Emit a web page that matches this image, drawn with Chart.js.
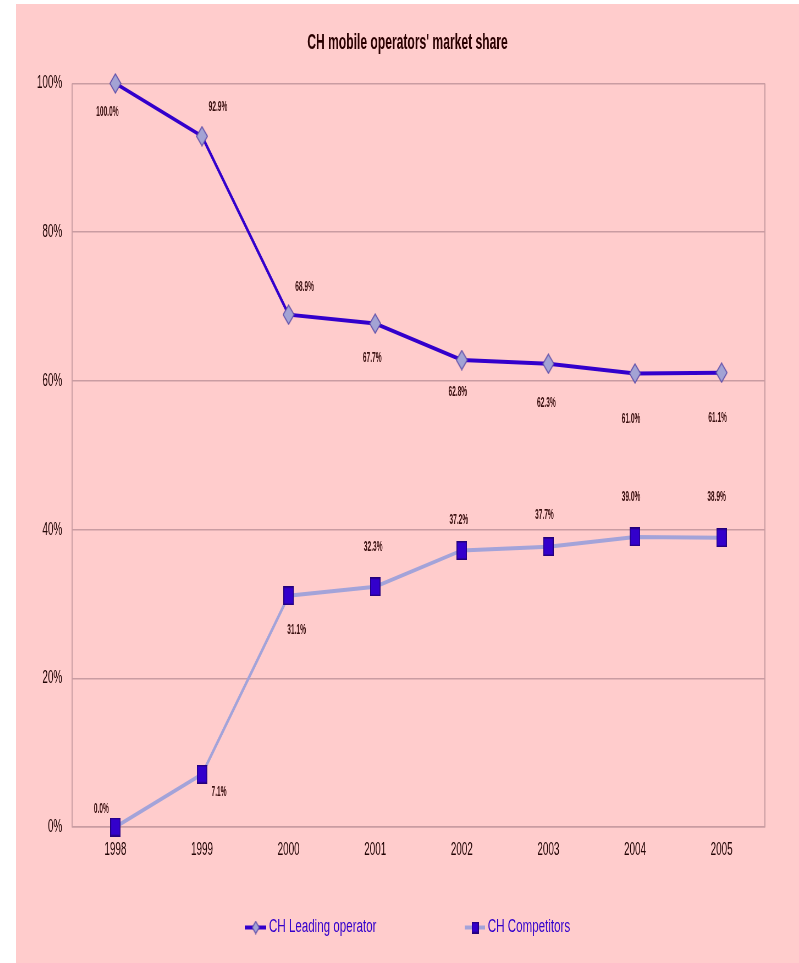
<!DOCTYPE html>
<html>
<head>
<meta charset="utf-8">
<title>CH mobile operators' market share</title>
<script src="https://cdn.jsdelivr.net/npm/chart.js@4.4.0/dist/chart.umd.min.js"></script>
<style>
    body { margin: 0; background: #ffffff; }
    #box { position: absolute; left: 16px; top: 4px; width: 783px; height: 959px; background: #ffcccc; overflow: hidden; }
</style>
</head>
<body>
<div id="box"><canvas id="myChart" width="1424" height="959" style="display:block;width:783px;height:959px;"></canvas></div>
<script>
var years = ['1998', '1999', '2000', '2001', '2002', '2003', '2004', '2005'];
var leadingShare = [100.0, 92.9, 68.9, 67.7, 62.8, 62.3, 61.0, 61.1];
var competitorShare = [0.0, 7.1, 31.1, 32.3, 37.2, 37.7, 39.0, 38.9];
var yTickValues = [0, 20, 40, 60, 80, 100];

// where each value label sits relative to its point (screen px)
var leadingLabelOffsets = [[-8, 28], [16, -29], [16, -28], [-3, 34], [-4, 32], [-2, 39], [-4, 45], [-4, 45]];
var competitorLabelOffsets = [[-14, -18], [17, 18], [8, 34], [-2, -40], [-3, -31], [-4, -32], [-4, -40], [-5, -41]];

// the canvas is drawn wide and squeezed to 783px, like the original picture
var SX = 783 / 1424;

var gridColor = '#c99ca2';
var textColor = '#220505';
var leadColor = '#3300cc';
var compColor = '#a3a3d9';

function diamondImage(w, h, fill, stroke) {
    var c = document.createElement('canvas');
    c.width = w;
    c.height = h;
    var g = c.getContext('2d');
    g.beginPath();
    g.moveTo(w / 2, 1);
    g.lineTo(w - 1, h / 2);
    g.lineTo(w / 2, h - 1);
    g.lineTo(1, h / 2);
    g.closePath();
    g.fillStyle = fill;
    g.fill();
    g.lineWidth = 1.5;
    g.strokeStyle = stroke;
    g.stroke();
    return c;
}

function boxImage(w, h, fill, stroke) {
    var c = document.createElement('canvas');
    c.width = w;
    c.height = h;
    var g = c.getContext('2d');
    g.fillStyle = fill;
    g.fillRect(0, 0, w, h);
    g.lineWidth = 1.5;
    g.strokeStyle = stroke;
    g.strokeRect(0.75, 0.75, w - 1.5, h - 1.5);
    return c;
}

var leadMarker = diamondImage(22, 21, '#a3a3d4', '#5a4aa8');
var compMarker = boxImage(19, 19, '#3300cc', '#24007a');
var leadLegendMarker = diamondImage(15, 14, '#a3a3d4', '#5a4aa8');
var compLegendMarker = boxImage(13, 12, '#3300cc', '#24007a');

function drawSqueezedText(ctx, text, x, y, font, color, scaleX, align) {
    ctx.save();
    ctx.translate(x, y);
    ctx.scale(scaleX, 1);
    ctx.font = font;
    ctx.fillStyle = color;
    ctx.textAlign = align;
    ctx.textBaseline = 'middle';
    ctx.fillText(text, 0, 0);
    ctx.restore();
}

var plotFrame = {
    id: 'plotFrame',
    beforeDatasetsDraw: function (chart) {
        var a = chart.chartArea;
        var ctx = chart.ctx;
        ctx.save();
        ctx.strokeStyle = gridColor;
        ctx.lineWidth = 2;
        ctx.beginPath();
        ctx.moveTo(a.right, a.top);
        ctx.lineTo(a.right, a.bottom);
        ctx.moveTo(a.left, a.top);
        ctx.lineTo(a.left, a.bottom);
        ctx.stroke();
        ctx.restore();
    }
};

var valueLabels = {
    id: 'valueLabels',
    afterDatasetsDraw: function (chart) {
        var ctx = chart.ctx;
        var sets = [[leadingShare, leadingLabelOffsets], [competitorShare, competitorLabelOffsets]];
        for (let d = 0; d < sets.length; d++) {
            var meta = chart.getDatasetMeta(d);
            for (let i = 0; i < meta.data.length; i++) {
                var pt = meta.data[i];
                var off = sets[d][1][i];
                drawSqueezedText(ctx, sets[d][0][i].toFixed(1) + '%', pt.x + off[0] / SX, pt.y + off[1],
                    'bold 15px "Liberation Sans"', '#3a1010', 0.8, 'center');
            }
        }
    }
};

var bottomLegend = {
    id: 'bottomLegend',
    afterDraw: function (chart) {
        var ctx = chart.ctx;
        var y = 923.5;
        var items = [
            { x0: 416, x1: 455, mx: 436, color: leadColor, marker: leadLegendMarker, text: 'CH Leading operator' },
            { x0: 816, x1: 853, mx: 835, color: compColor, marker: compLegendMarker, text: 'CH Competitors' }
        ];
        ctx.save();
        for (let i = 0; i < items.length; i++) {
            var it = items[i];
            ctx.strokeStyle = it.color;
            ctx.lineWidth = 4;
            ctx.beginPath();
            ctx.moveTo(it.x0, y);
            ctx.lineTo(it.x1, y);
            ctx.stroke();
            ctx.drawImage(it.marker, it.mx - it.marker.width / 2, y - it.marker.height / 2);
            drawSqueezedText(ctx, it.text, it.x1 + 5, y, '18px "Liberation Sans"', '#3300cc', 1.17, 'left');
        }
        ctx.restore();
    }
};

var ctx = document.getElementById('myChart');
var myChart = new Chart(ctx, {
    type: 'line',
    data: {
        labels: years,
        datasets: [{
            label: 'CH Leading operator',
            data: leadingShare,
            borderColor: leadColor,
            borderWidth: 4,
            pointStyle: leadMarker,
            pointRadius: 10,
            tension: 0,
            clip: false,
            fill: false
        }, {
            label: 'CH Competitors',
            data: competitorShare,
            borderColor: compColor,
            borderWidth: 4,
            pointStyle: compMarker,
            pointRadius: 10,
            tension: 0,
            clip: false,
            fill: false
        }]
    },
    options: {
        responsive: false,
        animation: false,
        devicePixelRatio: 1,
        layout: { padding: 0 },
        plugins: {
            legend: { display: false },
            tooltip: { enabled: false },
            title: {
                display: true,
                text: "CH mobile operators' market share",
                color: '#2a0000',
                font: { family: 'Liberation Sans', size: 22, weight: 'bold' },
                padding: { top: 26, bottom: 27 }
            }
        },
        scales: {
            x: {
                offset: true,
                grid: { display: false, drawTicks: false },
                border: { display: true, color: gridColor, width: 1.5 },
                ticks: {
                    color: textColor,
                    padding: 12,
                    font: { family: 'Liberation Sans', size: 18 }
                },
                afterFit: function (scale) { scale.height = 136; }
            },
            y: {
                min: 0,
                max: 100,
                afterBuildTicks: function (scale) {
                    scale.ticks = yTickValues.map(function (v) { return { value: v }; });
                },
                grid: { color: gridColor, lineWidth: 1.5, drawTicks: false },
                border: { display: false },
                ticks: {
                    color: textColor,
                    padding: 18,
                    font: { family: 'Liberation Sans', size: 18 },
                    callback: function (v) { return v + '%'; }
                },
                afterFit: function (scale) { scale.width = 102; }
            },
            // empty right-hand axis, only keeps the gap right of the plot
            yRight: {
                type: 'linear',
                position: 'right',
                min: 0,
                max: 100,
                grid: { display: false, drawTicks: false },
                border: { display: false },
                ticks: { display: false },
                afterFit: function (scale) { scale.width = 62; }
            }
        }
    },
    plugins: [plotFrame, valueLabels, bottomLegend]
});
</script>
</body>
</html>
